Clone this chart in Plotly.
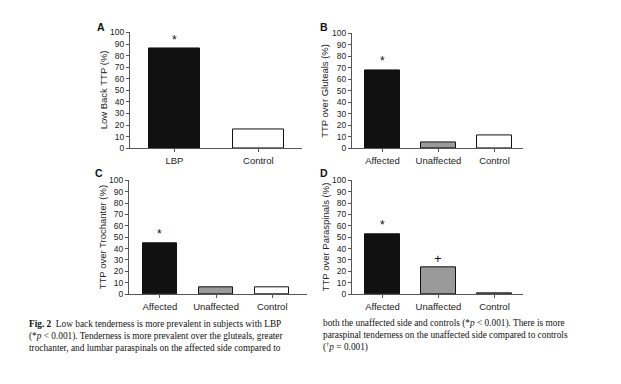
import plotly.graph_objects as go

# page has an 8px body margin, so the figure is shrunk and coordinates offset
OFF = 8
W, H = 621 - 2 * OFF, 384 - 2 * OFF

# ---- data ----
cats_a = ["LBP", "Control"]
vals_a = [86, 16]
cats_bcd = ["Affected", "Unaffected", "Control"]
vals_b = [68, 5, 11]
vals_c = [45, 6, 6]
vals_d = [53, 24, 1]
marks_a = ["*", ""]
marks_b = ["*", "", ""]
marks_c = ["*", "", ""]
marks_d = ["*", "+", ""]
ytitles = ["Low Back TTP (%)", "TTP over Gluteals (%)",
           "TTP over Trochanter (%)", "TTP over Paraspinals (%)"]
panel_letters = ["A", "B", "C", "D"]
yticks = list(range(0, 101, 10))

colors_a = ["#111111", "#ffffff"]
colors_bcd = ["#111111", "#9a9a9a", "#ffffff"]

def px(x):
    return (x - OFF) / W

def py(y):
    return 1 - (y - OFF) / H

panels = [
    dict(cats=cats_a, vals=vals_a, marks=marks_a, colors=colors_a,
         x0=130, x1=302, yt=28, yb=147, xr=[-0.53, 1.52], bw=0.61),
    dict(cats=cats_bcd, vals=vals_b, marks=marks_b, colors=colors_bcd,
         x0=352, x1=523, yt=29, yb=147, xr=[-0.545, 2.51], bw=0.63),
    dict(cats=cats_bcd, vals=vals_c, marks=marks_c, colors=colors_bcd,
         x0=129, x1=307, yt=180, yb=297, xr=[-0.55, 2.62], bw=0.61),
    dict(cats=cats_bcd, vals=vals_d, marks=marks_d, colors=colors_bcd,
         x0=352, x1=523, yt=180, yb=297, xr=[-0.545, 2.51], bw=0.63),
]

fig = go.Figure()
annotations = []
layout = {}
tickfont = dict(family="Liberation Sans, Arial", size=8.5, color="#222")

for i, p in enumerate(panels):
    n = i + 1
    xa = "x" if n == 1 else f"x{n}"
    ya = "y" if n == 1 else f"y{n}"
    xs = list(range(len(p["cats"])))
    fig.add_trace(go.Bar(
        x=xs, y=p["vals"], width=p["bw"], xaxis=xa, yaxis=ya,
        marker=dict(color=p["colors"], line=dict(color="#111111", width=1)),
        showlegend=False, hoverinfo="skip"))
    xkey = "xaxis" if n == 1 else f"xaxis{n}"
    ykey = "yaxis" if n == 1 else f"yaxis{n}"
    layout[xkey] = dict(
        domain=[px(p["x0"]), px(p["x1"])], range=p["xr"], anchor=ya,
        tickmode="array", tickvals=xs, ticktext=p["cats"],
        ticks="outside", ticklen=3, tickcolor="#555", showline=True,
        linecolor="#555", linewidth=1, showgrid=False, zeroline=False,
        tickfont=dict(family="Liberation Sans, Arial", size=9.5, color="#222"),
        fixedrange=True)
    layout[ykey] = dict(
        domain=[py(p["yb"]), py(p["yt"])], range=[0, 100], anchor=xa,
        tickmode="array", tickvals=yticks, ticks="outside", ticklen=3,
        tickcolor="#555", showline=True, linecolor="#555", linewidth=1,
        showgrid=False, zeroline=False, tickfont=tickfont, fixedrange=True)
    for xi, (v, m) in enumerate(zip(p["vals"], p["marks"])):
        if m:
            annotations.append(dict(
                x=xi, y=v, xref=xa, yref=ya, text=m, showarrow=False,
                yanchor="bottom", yshift=0 if m == "*" else -1,
                font=dict(family="Liberation Sans, Arial",
                          size=12 if m == "*" else 13, color="#111")))
    annotations.append(dict(
        x=px(p["x0"] - 27), y=(py(p["yb"]) + py(p["yt"])) / 2,
        xref="paper", yref="paper", text=ytitles[i], textangle=-90,
        showarrow=False, xanchor="center", yanchor="middle",
        font=dict(family="Liberation Sans, Arial", size=9.5, color="#222")))
    lx = [101, 324, 99, 324][i]
    ly = [22, 22, 172, 172][i]
    annotations.append(dict(
        x=px(lx), y=py(ly), xref="paper", yref="paper",
        text=f"<b>{panel_letters[i]}</b>", showarrow=False,
        xanchor="center", yanchor="middle",
        font=dict(family="Liberation Sans, Arial", size=10.5, color="#111")))

caption_left = [
    "<b>Fig. 2</b>  Low back tenderness is more prevalent in subjects with LBP",
    "(*<i>p</i> &lt; 0.001). Tenderness is more prevalent over the gluteals, greater",
    "trochanter, and lumbar paraspinals on the affected side compared to",
]
caption_right = [
    "both the unaffected side and controls (*<i>p</i> &lt; 0.001). There is more",
    "paraspinal tenderness on the unaffected side compared to controls",
    "(<sup>†</sup><i>p</i> = 0.001)",
]
capfont = dict(family="Liberation Serif, Times New Roman", size=9.3, color="#111")
annotations.append(dict(x=px(27), y=py(340), xref="paper", yref="paper",
                        text="<br>".join(caption_left), showarrow=False,
                        xanchor="left", yanchor="middle", align="left",
                        font=capfont))
annotations.append(dict(x=px(321), y=py(340), xref="paper", yref="paper",
                        text="<br>".join(caption_right), showarrow=False,
                        xanchor="left", yanchor="middle", align="left",
                        font=capfont))

fig.update_layout(
    width=W, height=H, margin=dict(l=0, r=0, t=0, b=0),
    paper_bgcolor="white", plot_bgcolor="white",
    annotations=annotations, bargap=0, **layout)

fig.write_html("out.html")
